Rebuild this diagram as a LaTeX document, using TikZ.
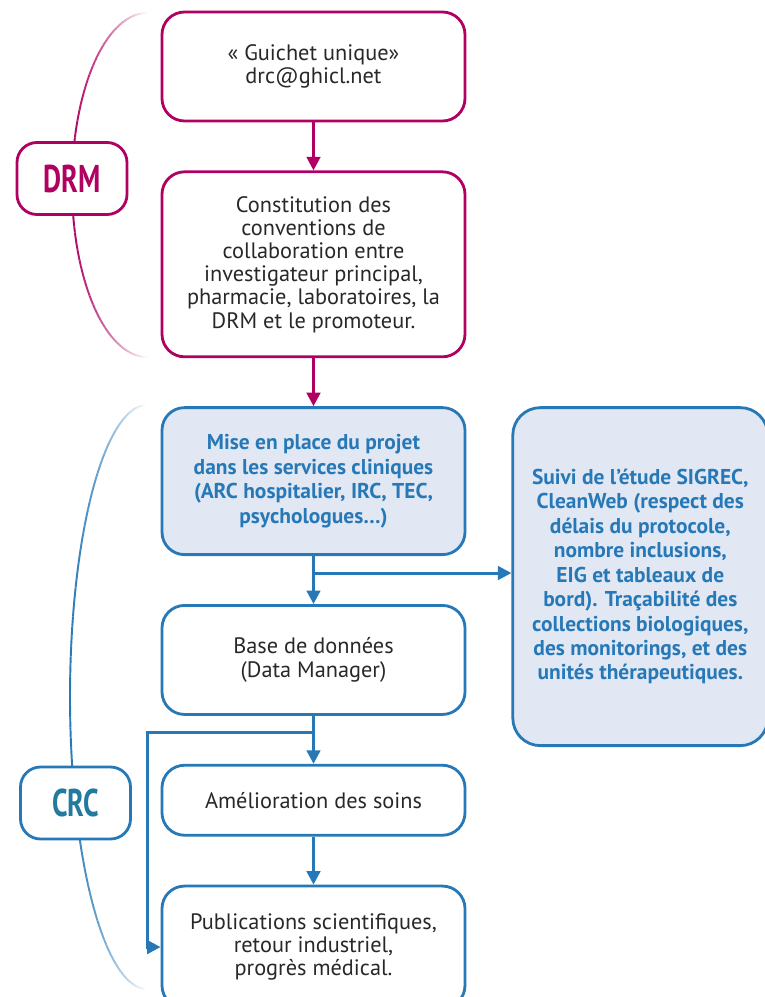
\documentclass[tikz,border=0pt]{standalone}
\usepackage{fontspec}
\setmainfont{PT Sans}
\usetikzlibrary{calc,positioning,arrows.meta}
\definecolor{drmcol}{RGB}{176,0,98}
\definecolor{crccol}{RGB}{39,120,182}
\definecolor{crcfill}{RGB}{225,232,244}
\definecolor{crctext}{RGB}{34,122,158}
\definecolor{textcol}{RGB}{40,40,40}

\begin{document}
\begin{tikzpicture}[align=center, >={Triangle[length=0.27cm,width=0.27cm]},
    flowbox/.style={draw, line width=1.6pt, rounded corners=0.45cm, minimum width=6.06cm, fill=white,
        text=textcol, font=\fontsize{12.7}{13.2}\selectfont},
    drmbox/.style={flowbox, draw=drmcol},
    crcbox/.style={flowbox, draw=crccol},
    crcbold/.style={flowbox, draw=crccol, fill=crcfill, text=crccol, font=\fontsize{12.2}{13.9}\selectfont\bfseries},
    unitlabel/.style={draw, line width=1.6pt, rounded corners=0.4cm, fill=white, minimum width=2.2cm,
        minimum height=1.44cm, font=\fontsize{22}{22}\selectfont\bfseries},
    drmline/.style={draw=drmcol, line width=1.7pt, ->},
    crcline/.style={draw=crccol, line width=1.7pt, ->}]
    \useasboundingbox (0,0) rectangle (15.3,-19.94);

    % side brackets, fading at both ends
    \coordinate (drmarc) at (2.94,-3.7);
    \coordinate (crcarc) at (2.94,-13.94);
    \foreach \a in {90,92,...,268} {
        \pgfmathsetmacro\p{100*(1-((\a+1-180)/90)*((\a+1-180)/90))}
        \draw[drmcol!\p!white, line width=1.1pt, shift={(drmarc)}] (\a:1.5 and 3.44)
            arc[start angle=\a, end angle=\a+2, x radius=1.5, y radius=3.44];
        \draw[crccol!\p!white, line width=1.1pt, shift={(crcarc)}] (\a:1.54 and 5.84)
            arc[start angle=\a, end angle=\a+2, x radius=1.54, y radius=5.84];
    }
    \node [unitlabel, draw=drmcol, text=drmcol] (drm) at (1.44,-3.57) {\scalebox{0.72}[1]{DRM}};
    \node [unitlabel, draw=crccol, text=crctext] (crc) at (1.51,-16.06) {\scalebox{0.72}[1]{CRC}};

    % DRM steps
    \node [drmbox, minimum height=2.18cm] (guichet) at (6.27,-1.33) {«~Guichet unique»\\drc@ghicl.net};
    \node [drmbox, below=0.96cm of guichet, minimum height=3.7cm] (conventions) {Constitution des\\conventions de\\collaboration entre\\investigateur principal,\\pharmacie, laboratoires, la\\DRM et le promoteur.};

    % CRC steps
    \node [crcbold, below=0.96cm of conventions, minimum height=2.94cm] (projet) {Mise en place du projet\\dans les services cliniques\\(ARC hospitalier, IRC, TEC,\\psychologues…)};
    \node [crcbox, below=0.96cm of projet, minimum height=2.18cm] (donnees) {Base de données\\(Data Manager)};
    \node [crcbox, below=0.96cm of donnees, minimum height=1.4cm] (soins) {Amélioration des soins};
    \node [crcbox, below=0.96cm of soins, minimum height=2.44cm] (publis) {Publications scientifiques,\\retour industriel,\\progrès médical.};
    \node [crcbold, anchor=north west, rounded corners=0.55cm, minimum width=5.1cm, minimum height=6.76cm]
        (suivi) at ($(projet.north east)+(0.9,0)$) {Suivi de l’étude SIGREC,\\CleanWeb (respect des\\délais du protocole,\\nombre inclusions,\\EIG et tableaux de\\bord). Traçabilité des\\collections biologiques,\\des monitorings, et des\\unités thérapeutiques.};

    \draw[drmline] (guichet) -- (conventions);
    \draw[drmline] (conventions) -- (projet);

    \coordinate (split1) at ($(projet.south)+(0,-0.34)$);
    \coordinate (split2) at ($(donnees.south)+(0,-0.34)$);
    \draw[crcline] (projet) -- (donnees);
    \draw[crcline] (split1) -- (split1 -| suivi.west);
    \draw[crcline] (donnees) -- (soins);
    \draw[crcline] (split2) -- ++(-3.32,0) |- (publis.west);
    \draw[crcline] (soins) -- (publis);
\end{tikzpicture}
\end{document}
